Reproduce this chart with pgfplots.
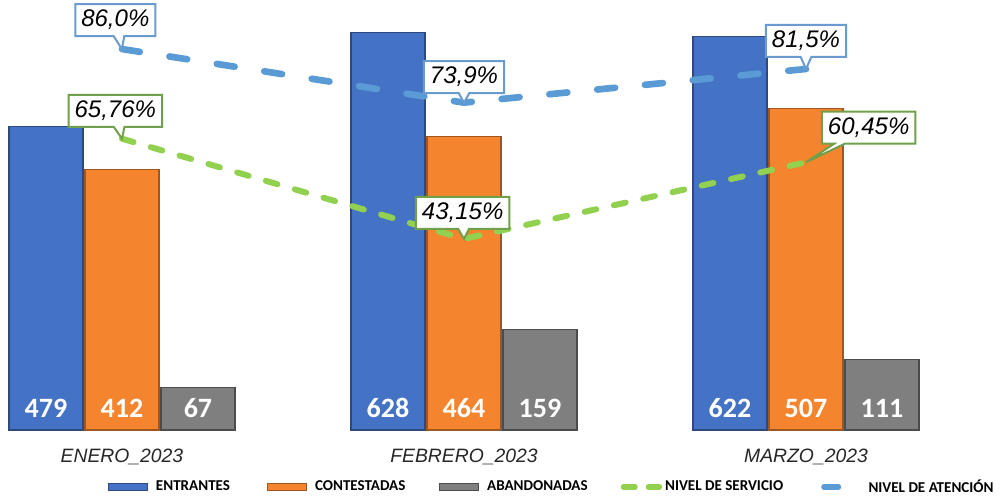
\documentclass[border=0pt]{standalone}
\usepackage{pgfplots}
\pgfplotsset{compat=1.18}
\usepackage{pgfplotstable}
\usetikzlibrary{shapes.callouts}
\usepackage{fontspec}
\setmainfont{Liberation Sans}
\newfontfamily\calibri{Carlito}

\definecolor{cEnt}{HTML}{4472C4}
\definecolor{cCon}{HTML}{F5842F}
\definecolor{cAba}{HTML}{7F7F7F}
\definecolor{cNS}{HTML}{92D050}
\definecolor{cNA}{HTML}{5B9BD5}
\definecolor{cNSbox}{HTML}{70A04A}
\definecolor{cNAbox}{HTML}{6A9BCF}

% x: category index; ent/con/aba: counts; ns/na: percentages
\pgfplotstableread{
x ent con aba ns na
0 479 412 67  65.76 86.0
1 628 464 159 43.15 73.9
2 622 507 111 60.45 81.5
}\data

% args: box colour, box-centre->point x, y, pointer (from border) x, y, row, precision
\pgfplotsset{
  pcallout/.style n args={7}{draw=none, mark=none, point meta=explicit,
    forget plot,
    x filter/.code={\ifnum\coordindex=#6\relax\else\def\pgfmathresult{}\fi},
    nodes near coords={\pgfmathprintnumber[fixed,fixed zerofill,precision=#7,use comma,assume math mode=true]{\pgfplotspointmeta}\%},
    every node near coord/.append style={rectangle callout, anchor=center,
      xshift={0pt-(#2)}, yshift={0pt-(#3)},
      callout relative pointer={(#4,#5)}, callout pointer width=8pt,
      fill=white, draw=#1, solid, line width=1.5pt, text=black,
      font=\itshape\fontsize{18}{20}\selectfont,
      inner xsep=4.5pt, inner ysep=4pt, text height=13pt, text depth=3pt}},
}

\begin{document}
\begin{tikzpicture}
\begin{axis}[
  scale only axis, width=754.5pt, height=322.5pt,
  xmin=-0.3567, xmax=2.5848, ymin=0, ymax=679,
  ybar, bar width=55.5pt,
  axis line style={draw=none}, major tick length=0pt,
  ytick=\empty,
  xtick={0,1,2},
  xticklabels={ENERO\_2023,FEBRERO\_2023,MARZO\_2023},
  xticklabel style={anchor=base, yshift=-24pt, inner sep=0pt,
     font=\itshape\fontsize{14.5}{16}\selectfont, text=black!85},
  clip=false,
]
\addplot[bar shift=-57pt, fill=cEnt, draw=cEnt!65!black, line width=0.8pt] table[x=x,y=ent]{\data};
\addplot[bar shift=0pt, fill=cCon, draw=cCon!65!black, line width=0.8pt] table[x=x,y=con]{\data};
\addplot[bar shift=57pt, fill=cAba, draw=cAba!60!black, line width=0.8pt] table[x=x,y=aba]{\data};
% value labels at the foot of each bar
\pgfplotsset{bottomlabel/.style={draw=none, fill=none, point meta=explicit,
   nodes near coords={\pgfmathprintnumber[assume math mode=true]{\pgfplotspointmeta}},
   every node near coord/.append style={anchor=base, yshift=9.75pt,
   inner sep=0pt, text=white, font=\calibri\bfseries\fontsize{21}{22}\selectfont}}}
\addplot[bar shift=-57pt, bottomlabel] table[x=x,y expr=0,meta=ent]{\data};
\addplot[bar shift=0pt, bottomlabel] table[x=x,y expr=0,meta=con]{\data};
\addplot[bar shift=57pt, bottomlabel] table[x=x,y expr=0,meta=aba]{\data};
\end{axis}

\begin{axis}[
  scale only axis, width=754.5pt, height=322.5pt,
  xmin=-0.3567, xmax=2.5848, ymin=0, ymax=97.07,
  hide axis, clip=false,
  legend columns=5,
  legend cell align=left,
  legend style={at={(axis description cs:0.1074,-0.1326)}, anchor=west,
     draw=none, fill=none, inner sep=0pt,
     nodes={inner xsep=0pt, inner ysep=1pt},
     font=\calibri\bfseries\fontsize{11.3}{13}\selectfont,
     /tikz/every odd column/.append style={column sep=0pt},
     /tikz/column 2/.append style={column sep=28pt},
     /tikz/column 4/.append style={column sep=25.5pt},
     /tikz/column 6/.append style={column sep=22.5pt},
     /tikz/column 8/.append style={column sep=26pt}},
]
\addlegendimage{legend image code/.code={\draw[solid,fill=cEnt,draw=cEnt!65!black,line width=0.6pt] (0pt,-2.8pt) rectangle (29.25pt,2.8pt); \path (35.25pt,0pt);}}
\addlegendentry{ENTRANTES}
\addlegendimage{legend image code/.code={\draw[solid,fill=cCon,draw=cCon!65!black,line width=0.6pt] (0pt,-2.8pt) rectangle (29.25pt,2.8pt); \path (35.25pt,0pt);}}
\addlegendentry{CONTESTADAS}
\addlegendimage{legend image code/.code={\draw[solid,fill=cAba,draw=cAba!60!black,line width=0.6pt] (0pt,-2.8pt) rectangle (29.25pt,2.8pt); \path (35.25pt,0pt);}}
\addlegendentry{ABANDONADAS}

\addplot[color=cNS, line width=4.5pt, dash pattern=on 9pt off 13.5pt, line cap=round, mark=none,
   legend image code/.code={\draw[solid,color=cNS,line width=4pt,line cap=round] (2pt,0pt) -- (10.75pt,0pt) (20.75pt,0pt) -- (29pt,0pt); \path (0pt,0pt) (31pt,0pt);},
] table[x=x,y=ns]{\data};
\addlegendentry{NIVEL DE SERVICIO}

\addplot[color=cNA, line width=5pt, dash pattern=on 13.5pt off 22.5pt, line cap=round, mark=none,
   legend image code/.code={\draw[solid,color=cNA,line width=4pt,line cap=round] (2pt,0pt) -- (13pt,0pt); \path (0pt,0pt) (33pt,0pt);},
] table[x=x,y=na]{\data};
\addlegendentry{NIVEL DE ATENCIÓN}

% callout labels, one per point
\addplot[pcallout={cNSbox}{5pt}{-20.8pt}{2.1pt}{-8.8pt}{0}{2}] table[x=x,y=ns,meta=ns]{\data};
\addplot[pcallout={cNSbox}{1pt}{-19.4pt}{0.4pt}{-7.4pt}{1}{2}] table[x=x,y=ns,meta=ns]{\data};
\addplot[pcallout={cNSbox}{-47pt}{-26pt}{-25.3pt}{-14pt}{2}{2}] table[x=x,y=ns,meta=ns]{\data};
\addplot[pcallout={cNAbox}{5pt}{-21.75pt}{2.2pt}{-9.75pt}{0}{1}] table[x=x,y=na,meta=na]{\data};
\addplot[pcallout={cNAbox}{0pt}{-19.2pt}{0pt}{-7.2pt}{1}{1}] table[x=x,y=na,meta=na]{\data};
\addplot[pcallout={cNAbox}{0pt}{-21pt}{0pt}{-9pt}{2}{1}] table[x=x,y=na,meta=na]{\data};
\end{axis}
\pgfresetboundingbox
\path[use as bounding box] (0pt,-50.25pt) rectangle (754.5pt,322.5pt);
\end{tikzpicture}
\end{document}
